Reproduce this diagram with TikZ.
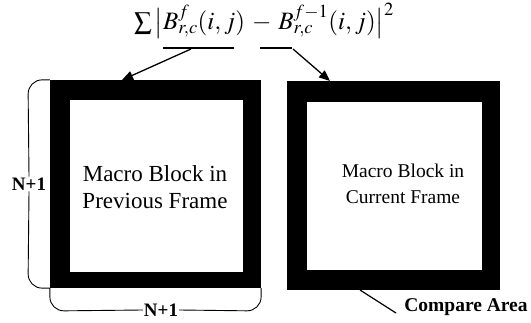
\documentclass[tikz,border=0pt]{standalone}
\usepackage{mathptmx}
\usepackage{fontspec}
\setmainfont{Liberation Serif}
\usetikzlibrary{positioning, arrows.meta}

\tikzset{
  outer/.style={rectangle, fill=black, inner sep=0pt},
  inner/.style={rectangle, fill=white, inner sep=0pt},
  blktxt/.style={align=center, inner sep=0pt},
  brk/.style={line width=0.9pt, rounded corners=14pt},
  nlbl/.style={font=\fontsize{19}{22}\selectfont\bfseries, fill=white, inner sep=1pt},
  arr/.style={line width=1.3pt, -{Triangle[length=11pt,width=9pt]}},
}

\begin{document}
\begin{tikzpicture}[x=1pt,y=-1pt]
\useasboundingbox (0,0) rectangle (531,323);

% the sum over the compare area
\node[inner sep=0pt] (sse) at (264,21) {\fontsize{25}{30}\selectfont
  $\textstyle\sum\big|B^{f}_{r,c}(i,j)\:-\:B^{f-1}_{r,c}(i,j)\big|^{2}$};
\coordinate (u1a) at (163,48); \coordinate (u1b) at (234,48);
\coordinate (u2a) at (260,48); \coordinate (u2b) at (292,48);
\draw[line width=1.2pt] (u1a) -- (u1b);
\draw[line width=1.2pt] (u2a) -- (u2b);

% the two blocks
\node[outer, minimum width=211pt, minimum height=208pt] (prevout) at (155.5,184) {};
\node[inner, minimum width=173pt, minimum height=172pt] (previn) at (156.5,186) {};
\node[blktxt, font=\fontsize{23}{27}\selectfont] (prevtxt) at (155,187) {Macro Block in\\Previous Frame};

\node[outer, minimum width=213pt, minimum height=209pt] (curout) at (393.5,185.5) {};
\node[inner, minimum width=175pt, minimum height=168pt] (curin) at (394.5,186) {};
\node[blktxt, font=\fontsize{19.5}{26}\selectfont] (curtxt) at (403,184) {Macro Block in\\Current Frame};

% arrows from the two terms
\coordinate (s1) at (191,49); \coordinate (t1) at (122,80);
\coordinate (s2) at (293,49); \coordinate (t2) at (330,81);
\draw[arr] (s1) -- (t1);
\draw[arr] (s2) -- (t2);

% N+1 brackets
\node[nlbl] (lnum) at (29,184) {N+1};
\node[nlbl] (bnum) at (161,310) {N+1};
\draw[brk] (prevout.north west) -- (28,80) -- (lnum.north);
\draw[brk] (lnum.south) -- (28,288) -- (prevout.south west);
\draw[brk] (prevout.south west) -- (50,311) -- (bnum.west);
\draw[brk] (bnum.east) -- (261,311) -- (prevout.south east);

% compare area label
\node[font=\fontsize{19.5}{22}\selectfont\bfseries, inner sep=0pt] (cmp) at (466,307) {Compare Area};
\coordinate (c1) at (360,290); \coordinate (c2) at (396,313);
\draw[line width=1.2pt] (c1) -- (c2);
\end{tikzpicture}
\end{document}
